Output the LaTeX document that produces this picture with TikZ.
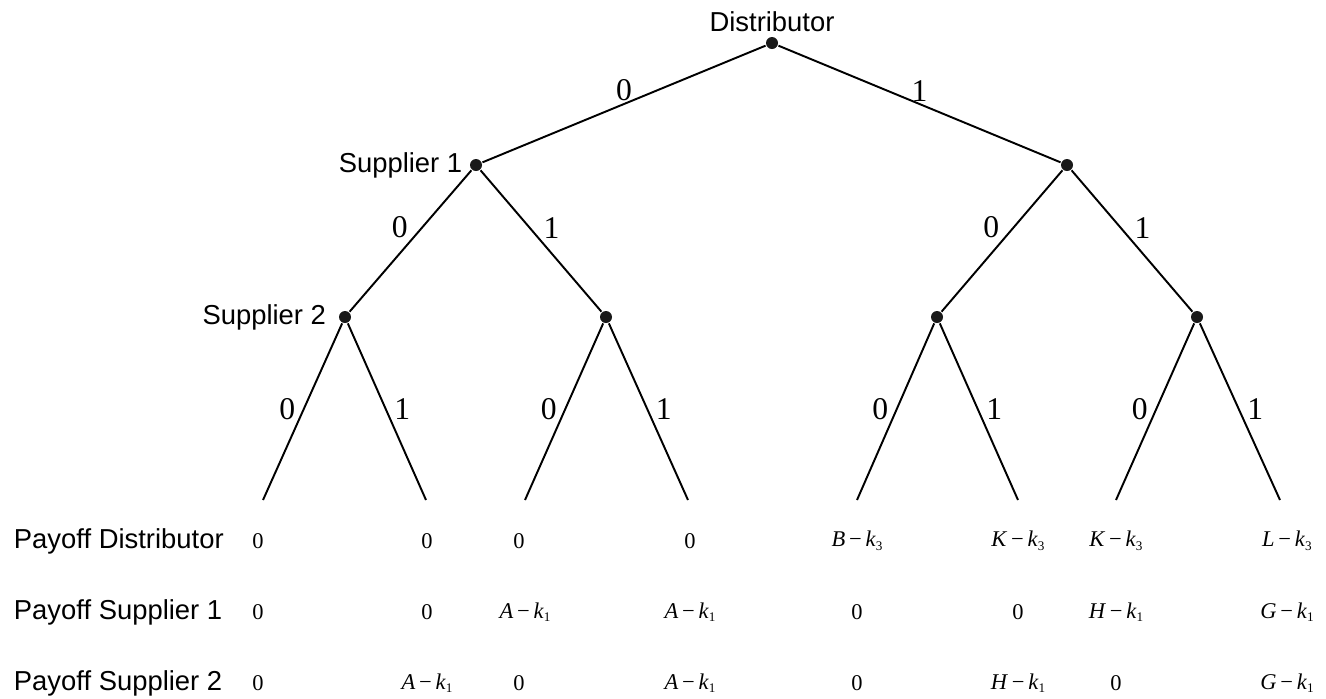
\documentclass[tikz,border=0pt]{standalone}
\usepackage{fontspec}
\setmainfont{Liberation Serif}
\newfontfamily\arialfont{Liberation Sans}
\newcommand{\cost}[2]{\textit{#1}\,−\,\textit{k}\raisebox{-0.35ex}{\fontsize{7.5}{8}\selectfont #2}}

\begin{document}
\begin{tikzpicture}[x=0.02cm, y=-0.02cm, line width=1.1pt, dot/.style={circle, fill=black!90, inner sep=0pt, minimum size=0.24cm}, who/.style={font=\arialfont\fontsize{15.6}{18}\selectfont}, el/.style={font=\fontsize{18}{20}\selectfont, inner sep=1pt}, pay/.style={font=\fontsize{12.8}{15}\selectfont}]
	\useasboundingbox (0,0) rectangle (1326,698);
	% decision nodes
	\node[dot, label={[who, inner sep=2pt]above:Distributor}] (d) at (772,43) {};
	\node[dot, label={[who]left:Supplier 1}] (s1a) at (476,165) {};
	\node[dot] (s1b) at (1067,165) {};
	\node[dot, label={[who, label distance=3pt]left:Supplier 2}] (s2a) at (345,317) {};
	\node[dot] (s2b) at (606,317) {};
	\node[dot] (s2c) at (937,317) {};
	\node[dot] (s2d) at (1197,317) {};
	% leaves
	\coordinate (l1) at (263,500);
	\coordinate (l2) at (426,500);
	\coordinate (l3) at (525,500);
	\coordinate (l4) at (688,500);
	\coordinate (l5) at (857,500);
	\coordinate (l6) at (1018,500);
	\coordinate (l7) at (1116,500);
	\coordinate (l8) at (1280,500);
	% branches
	\draw (d) -- (s1a) node[midway, above, el] {0};
	\draw (d) -- (s1b) node[midway, above, el] {1};
	\draw (s1a) -- (s2a) node[midway, anchor=south east, el] {0};
	\draw (s1a) -- (s2b) node[midway, anchor=south west, el] {1};
	\draw (s1b) -- (s2c) node[midway, anchor=south east, el] {0};
	\draw (s1b) -- (s2d) node[midway, anchor=south west, el] {1};
	\draw (s2a) -- (l1) node[pos=0.56, anchor=south east, el] {0};
	\draw (s2a) -- (l2) node[pos=0.56, anchor=south west, el] {1};
	\draw (s2b) -- (l3) node[pos=0.56, anchor=south east, el] {0};
	\draw (s2b) -- (l4) node[pos=0.56, anchor=south west, el] {1};
	\draw (s2c) -- (l5) node[pos=0.56, anchor=south east, el] {0};
	\draw (s2c) -- (l6) node[pos=0.56, anchor=south west, el] {1};
	\draw (s2d) -- (l7) node[pos=0.56, anchor=south east, el] {0};
	\draw (s2d) -- (l8) node[pos=0.56, anchor=south west, el] {1};
	% payoffs
	\node[who, anchor=west, inner sep=0pt] (rd) at (13,541) {Payoff Distributor};
	\node[who, anchor=west, inner sep=0pt] (ra) at (13,612) {Payoff Supplier 1};
	\node[who, anchor=west, inner sep=0pt] (rb) at (13,683) {Payoff Supplier 2};
	\node[pay] (pd1) at (258,541) {0};
	\node[pay] (pd2) at (427,541) {0};
	\node[pay] (pd3) at (519,541) {0};
	\node[pay] (pd4) at (690,541) {0};
	\node[pay] (pd5) at (857,541) {\cost{B}{3}};
	\node[pay] (pd6) at (1018,541) {\cost{K}{3}};
	\node[pay] (pd7) at (1116,541) {\cost{K}{3}};
	\node[pay] (pd8) at (1287,541) {\cost{L}{3}};
	\node[pay] (pa1) at (258,612) {0};
	\node[pay] (pa2) at (427,612) {0};
	\node[pay] (pa3) at (525,612) {\cost{A}{1}};
	\node[pay] (pa4) at (690,612) {\cost{A}{1}};
	\node[pay] (pa5) at (857,612) {0};
	\node[pay] (pa6) at (1018,612) {0};
	\node[pay] (pa7) at (1116,612) {\cost{H}{1}};
	\node[pay] (pa8) at (1287,612) {\cost{G}{1}};
	\node[pay] (pb1) at (258,683) {0};
	\node[pay] (pb2) at (427,683) {\cost{A}{1}};
	\node[pay] (pb3) at (519,683) {0};
	\node[pay] (pb4) at (690,683) {\cost{A}{1}};
	\node[pay] (pb5) at (857,683) {0};
	\node[pay] (pb6) at (1018,683) {\cost{H}{1}};
	\node[pay] (pb7) at (1116,683) {0};
	\node[pay] (pb8) at (1287,683) {\cost{G}{1}};
\end{tikzpicture}
\end{document}
